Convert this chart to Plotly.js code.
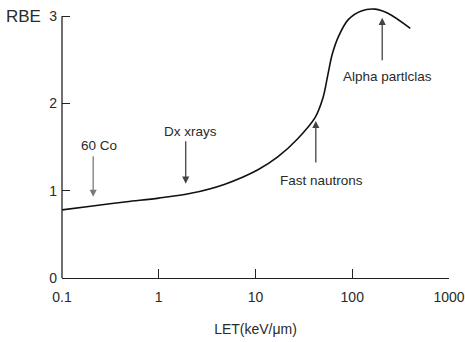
<!DOCTYPE html>
<html>
<head>
<meta charset="utf-8">
<script src="https://cdn.plot.ly/plotly-3.0.1.min.js"></script>
<style>html,body{margin:0;padding:0;background:#fff}#chart{width:465px;height:342px}</style>
</head>
<body>
<div id="chart"></div>
<script>
// Curve: RBE vs LET
const letValues = [0.1, 0.207, 0.467, 1.0, 2.15, 4.83, 10.6, 17.1, 27, 41.4, 50, 56, 62, 71.6, 90.9, 124, 173, 236, 398];
const rbeValues = [0.78, 0.825, 0.874, 0.915, 0.97, 1.075, 1.24, 1.39, 1.59, 1.84, 2.07, 2.33, 2.56, 2.76, 2.96, 3.06, 3.08, 3.03, 2.86];

// Tick labels
const xTickVals = [0.1, 1, 10, 100, 1000];
const xTickText = ["0.1", "1", "10", "100", "1000"];
const yTickVals = [0, 1, 2, 3];
const yTickText = ["0", "1", "2", "3"];

// Annotated sources: arrow tip (x, y), label position (x, y)
const labelNames = ["60 Co", "Dx xrays", "Fast nautrons", "Alpha partlclas"];
const tipX = [0.21, 1.9, 42, 204];
const tipY = [0.93, 1.08, 1.80, 2.98];
const labelX = [0.24, 2.15, 47.7, 231];
const labelY = [1.52, 1.68, 1.12, 2.31];
const tailOffsetPx = [-42, -44, 43, 44];
const arrowColors = ["#7a7a7a", "#444444", "#444444", "#444444"];

const fontFam = "Liberation Sans, Arial, sans-serif";
const annotations = [];
labelNames.forEach((name, i) => {
  annotations.push({
    x: Math.log10(tipX[i]), y: tipY[i], xref: 'x', yref: 'y',
    text: '', showarrow: true, ax: 0, ay: tailOffsetPx[i],
    arrowhead: 2, arrowsize: 1.1, arrowwidth: 1.3, arrowcolor: arrowColors[i]
  });
  annotations.push({
    x: Math.log10(labelX[i]), y: labelY[i], xref: 'x', yref: 'y',
    text: name, showarrow: false, xanchor: 'center', yanchor: 'middle',
    font: {family: fontFam, size: 13.5, color: '#2a2a2a'}
  });
});
annotations.push({
  xref: 'paper', yref: 'y', x: -0.05, y: 3, xanchor: 'right', yanchor: 'middle',
  text: 'RBE', showarrow: false, font: {family: fontFam, size: 17, color: '#2a2a2a'}
});

const trace = {
  x: letValues, y: rbeValues, type: 'scatter', mode: 'lines',
  line: {color: '#111', width: 1.6, shape: 'spline', smoothing: 0.9},
  hoverinfo: 'skip'
};

const layout = {
  width: 465, height: 342,
  margin: {l: 62, r: 16, t: 6, b: 64},
  paper_bgcolor: '#fff', plot_bgcolor: '#fff',
  showlegend: false,
  font: {family: fontFam, color: '#2a2a2a', size: 14},
  xaxis: {
    type: 'log', range: [-1, 3], tickvals: xTickVals, ticktext: xTickText,
    ticks: 'inside', ticklen: 9, tickwidth: 1.2, tickcolor: '#222',
    showline: true, linecolor: '#222', linewidth: 1.3,
    showgrid: false, zeroline: false, ticklabelstandoff: 6,
    tickfont: {family: fontFam, size: 14, color: '#2a2a2a'},
    title: {text: 'LET(keV/μm)', standoff: 20, font: {family: fontFam, size: 14, color: '#2a2a2a'}},
    automargin: false
  },
  yaxis: {
    range: [0, 3.116], tickvals: yTickVals, ticktext: yTickText,
    ticks: 'inside', ticklen: 8, tickwidth: 1.2, tickcolor: '#222',
    showline: false, showgrid: false, zeroline: false, ticklabelstandoff: 4,
    tickfont: {family: fontFam, size: 14, color: '#2a2a2a'},
    automargin: false
  },
  shapes: [{
    type: 'line', xref: 'paper', yref: 'y', x0: 0, x1: 0, y0: 0, y1: 3,
    line: {color: '#222', width: 1.3}
  }],
  annotations: annotations
};

Plotly.newPlot('chart', [trace], layout, {displayModeBar: false, staticPlot: true});
</script>
</body>
</html>
